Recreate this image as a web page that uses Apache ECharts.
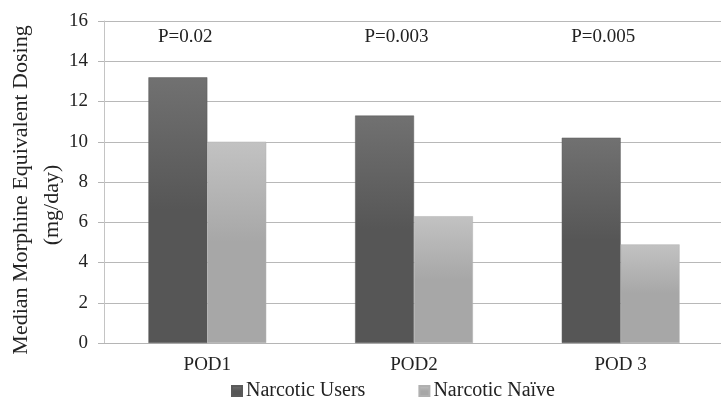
<!DOCTYPE html>
<html>
<head>
<meta charset="utf-8">
<script src="https://cdn.jsdelivr.net/npm/echarts@6/dist/echarts.min.js"></script>
<style>
html,body{margin:0;padding:0;background:#fff;}
#chart{width:721px;height:402px;}
</style>
</head>
<body>
<div id="chart"></div>
<script>
const categories = ['POD1', 'POD2', 'POD 3'];
const narcoticUsers = [13.2, 11.3, 10.2];
const narcoticNaive = [10.0, 6.3, 4.9];
const pValues = ['P=0.02', 'P=0.003', 'P=0.005'];
const pLabelLevel = 15.2;
const yTicks = { min: 0, max: 16, interval: 2 };
const yTitle = ['Median Morphine Equivalent Dosing', '(mg/day)'];

const FONT = 'Liberation Serif';
const chart = echarts.init(document.getElementById('chart'));

function grad(top, bottom) {
  return new echarts.graphic.LinearGradient(0, 0, 0, 1, [
    { offset: 0, color: top },
    { offset: 0.5, color: bottom },
    { offset: 1, color: bottom }
  ]);
}

chart.setOption({
  animation: false,
  backgroundColor: '#fff',
  textStyle: { fontFamily: FONT },
  grid: { left: 104, right: -3, top: 21, bottom: 59, containLabel: false, outerBoundsMode: 'none' },
  legend: {
    left: 226,
    top: 376,
    itemWidth: 10,
    itemHeight: 10,
    itemGap: 53,
    icon: 'rect',
    textStyle: { fontFamily: FONT, fontSize: 20, color: '#222', padding: [0, 0, 0, -1] },
    data: ['Narcotic Users', 'Narcotic Naïve']
  },
  xAxis: {
    type: 'category',
    data: categories,
    axisTick: { show: false },
    axisLine: { lineStyle: { color: '#b5b5b5', width: 1 } },
    axisLabel: { fontFamily: FONT, fontSize: 19, color: '#222', margin: 13 }
  },
  yAxis: {
    type: 'value',
    min: yTicks.min,
    max: yTicks.max,
    interval: yTicks.interval,
    name: '{a|' + yTitle[0] + '}\n{b|' + yTitle[1] + '}',
    nameLocation: 'middle',
    nameGap: 36,
    nameMoveOverlap: false,
    nameTextStyle: {
      fontFamily: FONT, fontSize: 22, color: '#222', lineHeight: 31, padding: [0, 16, 0, 0],
      rich: {
        a: { fontFamily: FONT, fontSize: 22, color: '#222', lineHeight: 31 },
        b: { fontFamily: FONT, fontSize: 22, color: '#222', lineHeight: 31, padding: [0, 30, 0, 0] }
      }
    },
    axisLine: { show: true, lineStyle: { color: '#c4c4c4' } },
    axisTick: { show: true, length: 6, lineStyle: { color: '#b5b5b5' } },
    splitLine: { lineStyle: { color: '#b8b8b8', width: 1 } },
    axisLabel: { fontFamily: FONT, fontSize: 19, color: '#222', margin: 16 }
  },
  series: [
    {
      name: 'Narcotic Users',
      type: 'bar',
      data: narcoticUsers,
      barGap: '0%',
      barCategoryGap: '43%',
      itemStyle: { color: grad('#717171', '#565656'), borderColor: '#5a5a5a', borderWidth: 0.5 },
      markPoint: {
        symbol: 'circle',
        symbolSize: 0,
        label: {
          show: true,
          formatter: p => p.name,
          fontFamily: FONT,
          fontSize: 19,
          color: '#222',
          align: 'left',
          offset: [-20, 0]
        },
        data: categories.map((c, i) => ({ name: pValues[i], coord: [c, pLabelLevel] }))
      }
    },
    {
      name: 'Narcotic Naïve',
      type: 'bar',
      data: narcoticNaive,
      itemStyle: { color: grad('#c2c2c2', '#a7a7a7'), borderColor: '#b0b0b0', borderWidth: 0.5 }
    }
  ],
  color: ['#666666', '#b5b5b5']
});
</script>
</body>
</html>
